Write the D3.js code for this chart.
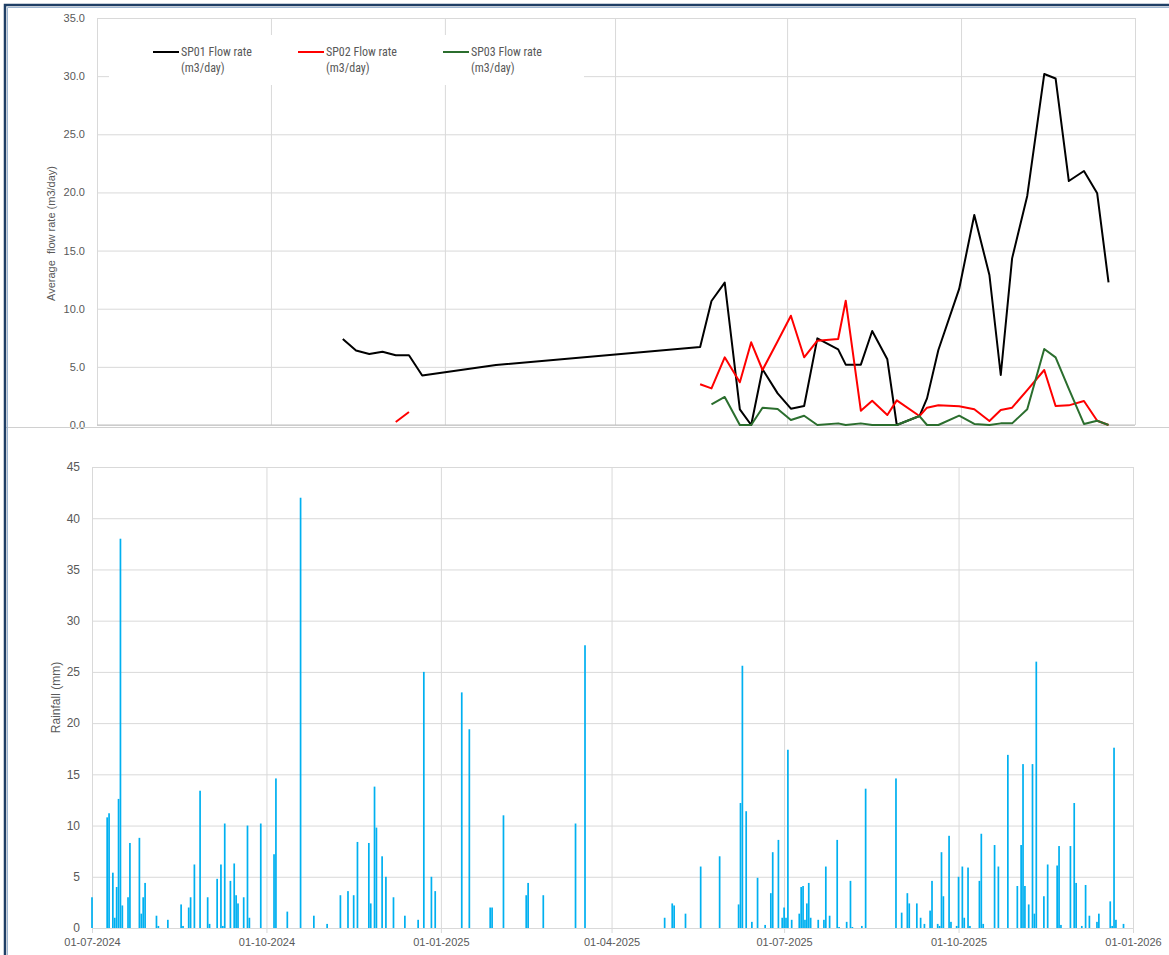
<!DOCTYPE html>
<html>
<head>
<meta charset="utf-8">
<script src="https://cdn.jsdelivr.net/npm/d3@7"></script>
<style>
  body { margin: 0; background: #fff; }
  svg { display: block; }
  .tick-label { font-family: "Liberation Sans", Arial, sans-serif; fill: #595959; }
  .legend-text { font-family: "Liberation Sans Narrow", "Roboto Condensed", "Liberation Sans", sans-serif; fill: #595959; font-size: 12px; }
</style>
</head>
<body>
<svg id="chart" width="1169" height="955"></svg>
<script>
// flow rate sampling dates (shared by the three sampling points)
const flowDates = [
  '2024-11-08', '2024-11-15', '2024-11-22', '2024-11-29', '2024-12-06', '2024-12-13', '2024-12-20',
  '2025-01-28',
  '2025-05-16', '2025-05-22', '2025-05-29', '2025-06-06', '2025-06-12', '2025-06-18', '2025-06-26',
  '2025-07-03', '2025-07-10', '2025-07-17', '2025-07-28', '2025-08-01', '2025-08-09', '2025-08-15',
  '2025-08-23', '2025-08-28', '2025-09-09', '2025-09-13', '2025-09-19', '2025-09-30', '2025-10-08',
  '2025-10-16', '2025-10-22', '2025-10-28', '2025-11-05', '2025-11-14', '2025-11-20', '2025-11-27',
  '2025-12-05', '2025-12-12', '2025-12-18'
];
const sp01 = [7.4, 6.4, 6.1, 6.3, 6.0, 6.0, 4.25, 5.15,
  6.71, 10.66, 12.24, 1.35, 0, 4.8, 2.72, 1.4, 1.63, 7.45,
  6.5, 5.19, 5.19, 8.08, 5.65, 0, 0.77, 2.29, 6.45, 11.7,
  18.06, 12.9, 4.3, 14.33, 19.7, 30.18, 29.8, 20.98, 21.84, 19.92, 12.27];
const sp02 = [null, null, null, null, 0.26, 1.12, null, null,
  3.5, 3.15, 5.82, 3.67, 7.11, 4.73, 7.2, 9.4, 5.82, 7.25,
  7.4, 10.69, 1.23, 2.09, 0.86, 2.12, 0.77, 1.49, 1.69, 1.61,
  1.35, 0.34, 1.29, 1.49, 3.0, 4.73, 1.63, 1.69, 2.06, 0.37, 0];
const sp03 = [null, null, null, null, null, null, null, null,
  null, 1.78, 2.41, 0, 0, 1.49, 1.38, 0.43, 0.8, 0,
  0.14, 0, 0.14, 0, 0, 0, 0.77, 0, 0, 0.8,
  0.09, 0, 0.14, 0.14, 1.35, 6.54, 5.82, 3.1, 0.09, 0.37, 0];

const seriesNames = ['SP01 Flow rate', 'SP02 Flow rate', 'SP03 Flow rate'];
const seriesColors = ['#000000', '#ff0000', '#2b6e2e'];

// daily rainfall
const rainDates = [
  '2024-07-01', '2024-07-09', '2024-07-10', '2024-07-12', '2024-07-13', '2024-07-14', '2024-07-15',
  '2024-07-16', '2024-07-17', '2024-07-20', '2024-07-21', '2024-07-26', '2024-07-27', '2024-07-28',
  '2024-07-29', '2024-08-04', '2024-08-05', '2024-08-10', '2024-08-17', '2024-08-18', '2024-08-21',
  '2024-08-22', '2024-08-24', '2024-08-27', '2024-08-31', '2024-09-01', '2024-09-05', '2024-09-07',
  '2024-09-08', '2024-09-09', '2024-09-12', '2024-09-14', '2024-09-15', '2024-09-16', '2024-09-19',
  '2024-09-21', '2024-09-22', '2024-09-28', '2024-10-05', '2024-10-06', '2024-10-12', '2024-10-19',
  '2024-10-26', '2024-11-02', '2024-11-09', '2024-11-13', '2024-11-16', '2024-11-18', '2024-11-24',
  '2024-11-25', '2024-11-27', '2024-11-28', '2024-12-01', '2024-12-03', '2024-12-07', '2024-12-13',
  '2024-12-20', '2024-12-23', '2024-12-27', '2024-12-29', '2025-01-12', '2025-01-16', '2025-01-27',
  '2025-01-28', '2025-02-03', '2025-02-15', '2025-02-16', '2025-02-24', '2025-03-13', '2025-03-18',
  '2025-04-29', '2025-05-03', '2025-05-04', '2025-05-10', '2025-05-18', '2025-05-28', '2025-06-07',
  '2025-06-08', '2025-06-09', '2025-06-11', '2025-06-14', '2025-06-17', '2025-06-21', '2025-06-24',
  '2025-06-25', '2025-06-28', '2025-06-30', '2025-07-01', '2025-07-02', '2025-07-03', '2025-07-05',
  '2025-07-09', '2025-07-10', '2025-07-11', '2025-07-12', '2025-07-13', '2025-07-14', '2025-07-15',
  '2025-07-19', '2025-07-22', '2025-07-23', '2025-07-25', '2025-07-29', '2025-07-30', '2025-08-03',
  '2025-08-05', '2025-08-06', '2025-08-11', '2025-08-13', '2025-08-29', '2025-09-01', '2025-09-04',
  '2025-09-05', '2025-09-09', '2025-09-11', '2025-09-13', '2025-09-16', '2025-09-17', '2025-09-20',
  '2025-09-21', '2025-09-22', '2025-09-23', '2025-09-26', '2025-09-27', '2025-09-30', '2025-10-01',
  '2025-10-03', '2025-10-04', '2025-10-06', '2025-10-07', '2025-10-12', '2025-10-13', '2025-10-14',
  '2025-10-20', '2025-10-22', '2025-10-27', '2025-11-01', '2025-11-03', '2025-11-04', '2025-11-05',
  '2025-11-07', '2025-11-09', '2025-11-10', '2025-11-11', '2025-11-15', '2025-11-17', '2025-11-22',
  '2025-11-23', '2025-11-24', '2025-11-29', '2025-12-01', '2025-12-02', '2025-12-05', '2025-12-07',
  '2025-12-09', '2025-12-13', '2025-12-14', '2025-12-20', '2025-12-21', '2025-12-22', '2025-12-23',
  '2025-12-27'
];
const rainMm = [
  3.0, 10.8, 11.2, 5.4, 1.0, 4.0, 12.6,
  38.0, 2.2, 3.0, 8.3, 8.8, 1.4, 3.0,
  4.4, 1.2, 0.2, 0.8, 2.3, 0.2, 2.0,
  3.0, 6.2, 13.4, 3.0, 0.4, 4.8, 6.2,
  0.2, 10.2, 4.6, 6.3, 3.2, 2.4, 3.0,
  10.0, 1.0, 10.2, 7.2, 14.6, 1.6, 42.0,
  1.2, 0.4, 3.2, 3.6, 3.2, 8.4, 8.3,
  2.4, 13.8, 9.8, 7.0, 5.0, 3.0, 1.2,
  0.8, 25.0, 5.0, 3.6, 23.0, 19.4, 2.0,
  2.0, 11.0, 3.2, 4.4, 3.2, 10.2, 27.6,
  1.0, 2.4, 2.2, 1.4, 6.0, 7.0, 2.3,
  12.2, 25.6, 11.4, 0.6, 4.9, 0.3, 3.4,
  7.4, 8.6, 1.0, 2.0, 1.0, 17.4, 0.8,
  1.4, 4.0, 4.1, 0.8, 2.4, 4.4, 1.0,
  0.8, 0.8, 6.0, 1.2, 8.6, 0.1, 0.6,
  4.6, 0.1, 0.2, 13.6, 14.6, 1.5, 3.4,
  2.4, 2.4, 1.0, 0.4, 1.7, 4.6, 0.4,
  0.2, 7.4, 3.1, 9.0, 0.6, 0.2, 5.0,
  6.0, 1.0, 5.9, 0.2, 4.6, 9.2, 0.4,
  8.1, 6.0, 16.9, 4.1, 8.1, 16.0, 4.1,
  2.3, 16.0, 1.4, 26.0, 3.1, 6.2, 6.1,
  8.0, 0.3, 8.0, 12.2, 4.4, 0.2, 4.2,
  1.2, 0.6, 1.4, 2.6, 0.2, 17.6, 0.8,
  0.4
];

const axisDates = ['2024-07-01', '2024-10-01', '2025-01-01', '2025-04-01', '2025-07-01', '2025-10-01', '2026-01-01'];
const flowTicks = [0, 5, 10, 15, 20, 25, 30, 35];
const rainTicks = [0, 5, 10, 15, 20, 25, 30, 35, 40, 45];

const parse = d3.utcParse('%Y-%m-%d');
const fmtDate = d3.utcFormat('%d-%m-%Y');
const gridColor = '#d9d9d9';
const frameColor = '#1f3f66';

const svg = d3.select('#chart');
svg.append('rect').attr('width', 1169).attr('height', 955).attr('fill', '#fff');

// ---------- top chart: flow rate ----------
const flowBox = { left: 97, right: 1135, top: 18, bottom: 425 };
const xTop = d3.scaleUtc()
  .domain([parse(axisDates[0]), parse(axisDates[axisDates.length - 1])])
  .range([flowBox.left, flowBox.right]);
const yTop = d3.scaleLinear().domain([0, 35]).range([flowBox.bottom, flowBox.top]);

const gTop = svg.append('g');

// gridlines
gTop.append('g')
  .attr('transform', `translate(${flowBox.left},0)`)
  .call(d3.axisLeft(yTop).tickValues(flowTicks).tickSize(-(flowBox.right - flowBox.left)).tickFormat(''))
  .call((g) => g.select('.domain').remove())
  .call((g) => g.selectAll('.tick line').attr('stroke', gridColor));
gTop.append('g')
  .attr('transform', `translate(0,${flowBox.top})`)
  .call(d3.axisBottom(xTop).tickValues(axisDates.map(parse)).tickSize(flowBox.bottom - flowBox.top).tickFormat(''))
  .call((g) => g.select('.domain').remove())
  .call((g) => g.selectAll('.tick line').attr('stroke', gridColor));

// y labels
gTop.append('g')
  .attr('transform', `translate(${flowBox.left},0)`)
  .call(d3.axisLeft(yTop).tickValues(flowTicks).tickSize(0).tickPadding(12).tickFormat(d3.format('.1f')))
  .call((g) => g.select('.domain').remove())
  .call((g) => g.selectAll('.tick text').attr('class', 'tick-label').attr('font-size', 11));

// x axis base line
gTop.append('line')
  .attr('x1', flowBox.left).attr('x2', flowBox.right)
  .attr('y1', flowBox.bottom).attr('y2', flowBox.bottom)
  .attr('stroke', '#bfbfbf');

gTop.append('text')
  .attr('class', 'tick-label')
  .attr('font-size', 11)
  .attr('text-anchor', 'middle')
  .attr('transform', `translate(55,${(flowBox.top + flowBox.bottom) / 2 + 12}) rotate(-90)`)
  .attr('xml:space', 'preserve')
  .text('Average  flow rate (m3/day)');

// legend box covers gridlines
gTop.append('rect')
  .attr('x', 109).attr('y', 35).attr('width', 475).attr('height', 50)
  .attr('fill', '#fff');

const flowSeries = [sp01, sp02, sp03];
const line = d3.line()
  .defined((d) => d.v != null)
  .x((d) => xTop(d.date))
  .y((d) => yTop(d.v));

flowSeries.forEach((vals, i) => {
  const data = flowDates.map((d, j) => ({ date: parse(d), v: vals[j] }));
  gTop.append('path')
    .datum(data)
    .attr('fill', 'none')
    .attr('stroke', seriesColors[i])
    .attr('stroke-width', 2)
    .attr('stroke-linejoin', 'round')
    .attr('d', line);
});

// legend
const legend = gTop.append('g').attr('transform', 'translate(153,52)');
seriesNames.forEach((name, i) => {
  const item = legend.append('g').attr('transform', `translate(${i * 145},0)`);
  item.append('line')
    .attr('x1', 0).attr('x2', 26).attr('y1', 0).attr('y2', 0)
    .attr('stroke', seriesColors[i]).attr('stroke-width', 2);
  item.append('text')
    .attr('class', 'legend-text')
    .attr('x', 28).attr('y', 4)
    .text(name);
  item.append('text')
    .attr('class', 'legend-text')
    .attr('x', 28).attr('y', 20)
    .text('(m3/day)');
});

// ---------- bottom chart: rainfall ----------
const rainBox = { left: 92, right: 1133, top: 467, bottom: 928 };
const xBot = d3.scaleUtc()
  .domain([parse(axisDates[0]), parse(axisDates[axisDates.length - 1])])
  .range([rainBox.left, rainBox.right]);
const yBot = d3.scaleLinear().domain([0, 45]).range([rainBox.bottom, rainBox.top]);

const gBot = svg.append('g');

gBot.append('g')
  .attr('transform', `translate(${rainBox.left},0)`)
  .call(d3.axisLeft(yBot).tickValues(rainTicks).tickSize(-(rainBox.right - rainBox.left)).tickFormat(''))
  .call((g) => g.select('.domain').remove())
  .call((g) => g.selectAll('.tick line').attr('stroke', gridColor));
gBot.append('g')
  .attr('transform', `translate(0,${rainBox.top})`)
  .call(d3.axisBottom(xBot).tickValues(axisDates.map(parse)).tickSize(rainBox.bottom - rainBox.top + 5).tickFormat(''))
  .call((g) => g.select('.domain').remove())
  .call((g) => g.selectAll('.tick line').attr('stroke', gridColor));

gBot.append('g')
  .attr('transform', `translate(${rainBox.left},0)`)
  .call(d3.axisLeft(yBot).tickValues(rainTicks).tickSize(0).tickPadding(12).tickFormat(d3.format('d')))
  .call((g) => g.select('.domain').remove())
  .call((g) => g.selectAll('.tick text').attr('class', 'tick-label').attr('font-size', 12));

gBot.append('g')
  .attr('transform', `translate(0,${rainBox.bottom})`)
  .call(d3.axisBottom(xBot).tickValues(axisDates.map(parse)).tickSize(0).tickPadding(10).tickFormat(fmtDate))
  .call((g) => g.select('.domain').attr('stroke', gridColor))
  .call((g) => g.selectAll('.tick text').attr('class', 'tick-label').attr('font-size', 11));

gBot.append('text')
  .attr('class', 'tick-label')
  .attr('font-size', 12)
  .attr('text-anchor', 'middle')
  .attr('transform', `translate(60,${(rainBox.top + rainBox.bottom) / 2}) rotate(-90)`)
  .text('Rainfall (mm)');

const dayW = xBot(parse('2024-07-02')) - xBot(parse('2024-07-01'));
gBot.append('g')
  .selectAll('rect')
  .data(rainDates.map((d, i) => ({ date: parse(d), v: rainMm[i] })))
  .join('rect')
  .attr('x', (d) => xBot(d.date) - dayW * 0.45)
  .attr('width', dayW * 0.9)
  .attr('y', (d) => yBot(d.v))
  .attr('height', (d) => yBot(0) - yBot(d.v))
  .attr('fill', '#00b0f0');

// ---------- frames ----------
svg.append('line')
  .attr('x1', 5).attr('x2', 1169).attr('y1', 427.5).attr('y2', 427.5)
  .attr('stroke', '#d0d0d0');
svg.append('path')
  .attr('d', 'M5,955 V5 H1169')
  .attr('fill', 'none')
  .attr('stroke', frameColor)
  .attr('stroke-width', 2.5);
svg.append('path')
  .attr('d', 'M7.5,955 V7.5 H1169')
  .attr('fill', 'none')
  .attr('stroke', '#9fb6d0')
  .attr('stroke-width', 1);
</script>
</body>
</html>
